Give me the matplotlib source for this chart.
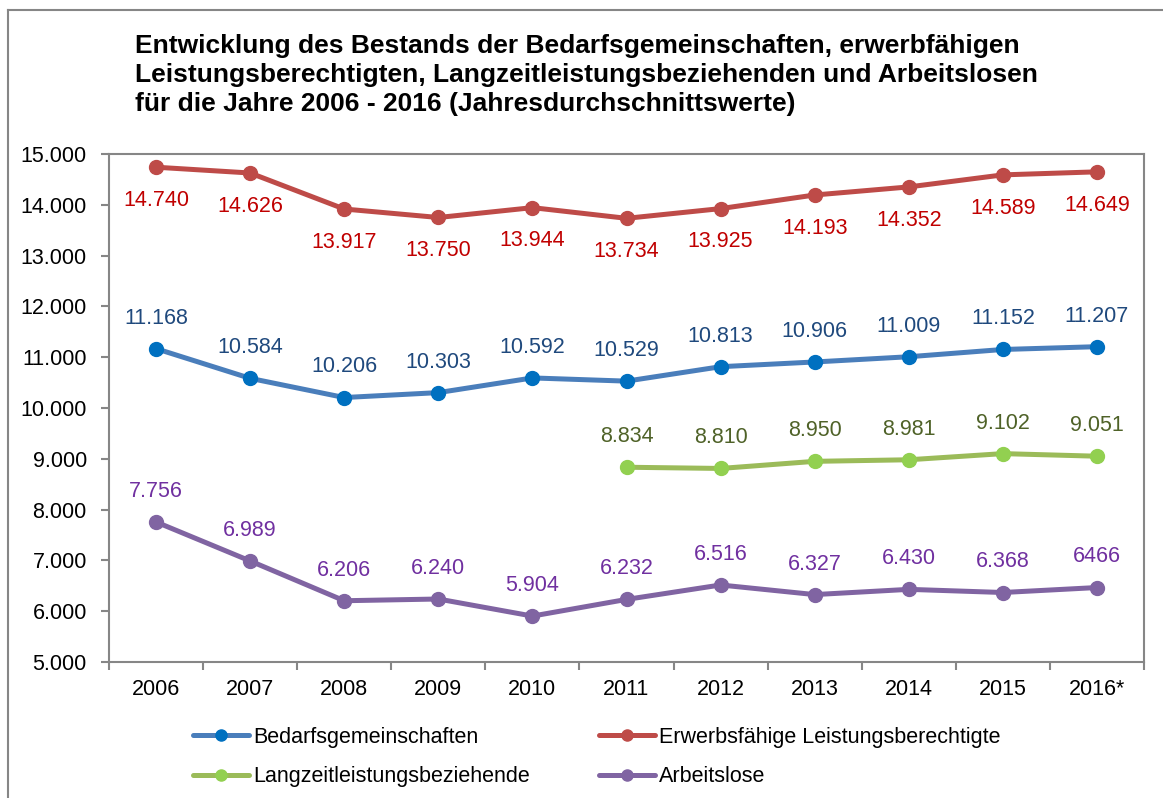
import matplotlib
matplotlib.use("Agg")
from matplotlib import pyplot as plt
from matplotlib.lines import Line2D
import numpy as np

plt.rcParams['font.family'] = ['Liberation Sans', 'DejaVu Sans']

years = ['2006', '2007', '2008', '2009', '2010', '2011', '2012', '2013', '2014', '2015', '2016*']
bedarfsgemeinschaften = [11168, 10584, 10206, 10303, 10592, 10529, 10813, 10906, 11009, 11152, 11207]
erwerbsfaehige = [14740, 14626, 13917, 13750, 13944, 13734, 13925, 14193, 14352, 14589, 14649]
langzeit = [None, None, None, None, None, 8834, 8810, 8950, 8981, 9102, 9051]
arbeitslose = [7756, 6989, 6206, 6240, 5904, 6232, 6516, 6327, 6430, 6368, 6466]
# the last Arbeitslose label has no thousands dot in the original
arbeitslose_labels = ['7.756', '6.989', '6.206', '6.240', '5.904', '6.232', '6.516', '6.327', '6.430', '6.368', '6466']


def fmt(v):
    return f"{v:,}".replace(",", ".")


fig = plt.figure(figsize=(11.63, 7.98), dpi=100)
ax = fig.add_axes([109 / 1163, 1 - 662 / 798, 1035 / 1163, 508 / 798])

x = np.arange(len(years))

series = [
    (bedarfsgemeinschaften, '#4a7ebb', '#0070c0', '#1f497d', 'above', 'Bedarfsgemeinschaften'),
    (erwerbsfaehige, '#be4b48', '#be4b48', '#c00000', 'below', 'Erwerbsfähige Leistungsberechtigte'),
    (langzeit, '#9bbb59', '#92d050', '#4f6228', 'above', 'Langzeitleistungsbeziehende'),
    (arbeitslose, '#8064a2', '#8064a2', '#7030a0', 'above', 'Arbeitslose'),
]

handles = {}
for vals, lc, mc, tc, pos, name in series:
    xs = [i for i, v in enumerate(vals) if v is not None]
    ys = [v for v in vals if v is not None]
    ax.plot(xs, ys, color=lc, lw=3.6, marker='o', ms=10, mfc=mc, mec=mc,
            solid_capstyle='round', zorder=3)
    for i, v in zip(xs, ys):
        if vals is arbeitslose:
            lab = arbeitslose_labels[i]
        else:
            lab = fmt(v)
        if pos == 'above':
            ax.annotate(lab, (i, v), xytext=(0, 22), textcoords='offset points',
                        ha='center', va='center', color=tc, fontsize=15.5)
        else:
            ax.annotate(lab, (i, v), xytext=(0, -24), textcoords='offset points',
                        ha='center', va='center', color=tc, fontsize=15.5)
    handles[name] = Line2D([], [], color=lc, lw=3.6, marker='o', ms=8, mfc=mc, mec=mc,
                           solid_capstyle='round')

ax.set_xlim(-0.5, len(years) - 0.5)
ax.set_ylim(5000, 15000)
ax.set_yticks(np.arange(5000, 15001, 1000))
ax.set_yticklabels([fmt(v) for v in range(5000, 15001, 1000)])
ax.set_xticks(x)
ax.set_xticklabels(years)
ax.set_xticks(np.arange(-0.5, len(years), 1), minor=True)
ax.tick_params(axis='x', which='major', length=0, pad=12, labelsize=15.5)
ax.tick_params(axis='x', which='minor', length=6, width=1.5, color='#868686')
ax.tick_params(axis='y', length=6, width=1.5, color='#868686', pad=10, labelsize=15.5)
for s in ax.spines.values():
    s.set_color('#868686')
    s.set_linewidth(1.5)

fig.text(135 / 1163, 1 - 34 / 798,
         'Entwicklung des Bestands der Bedarfsgemeinschaften, erwerbfähigen\n'
         'Leistungsberechtigten, Langzeitleistungsbeziehenden und Arbeitslosen\n'
         'für die Jahre 2006 - 2016 (Jahresdurchschnittswerte)',
         ha='left', va='top', fontsize=19, fontweight='bold', linespacing=1.25)

order = ['Bedarfsgemeinschaften', 'Langzeitleistungsbeziehende',
         'Erwerbsfähige Leistungsberechtigte', 'Arbeitslose']
fig.legend([handles[n] for n in order], order, ncol=2, frameon=False,
           loc='upper left', bbox_to_anchor=(193 / 1163, 1 - 727 / 798),
           fontsize=15.5, handlelength=2.6, handletextpad=0.2,
           columnspacing=3.2, labelspacing=0.85, borderaxespad=0, borderpad=0)

# outer frame lines (top and left)
fig.add_artist(Line2D([8 / 1163, 8 / 1163], [0, 1 - 10 / 798], transform=fig.transFigure,
                      color='#868686', lw=1.5))
fig.add_artist(Line2D([8 / 1163, 1], [1 - 10 / 798, 1 - 10 / 798], transform=fig.transFigure,
                      color='#868686', lw=1.5))

fig.savefig('out.png', dpi=100)
